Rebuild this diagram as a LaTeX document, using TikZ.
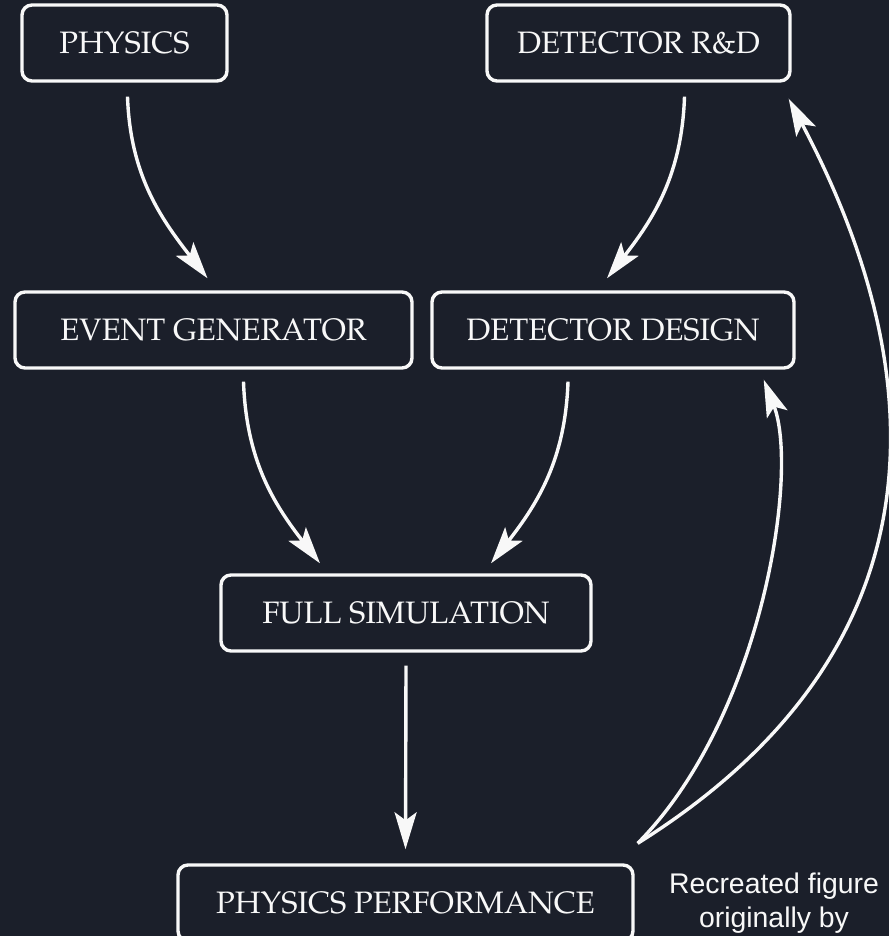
\documentclass[tikz,border=0pt]{standalone}
\usepackage[T1]{fontenc}
\usepackage{fontspec}
\usetikzlibrary{arrows.meta}
\newfontfamily\notefont{Liberation Sans}
\newcommand\boxfont{\fontencoding{T1}\fontfamily{ppl}\selectfont}
\definecolor{bgdark}{HTML}{1B1F2A}
\definecolor{linewhite}{HTML}{F8F8F8}

\begin{document}
\begin{tikzpicture}[x=0.5pt, y=0.5pt,
    stage/.style={draw=linewhite, line width=1.7pt, rounded corners=5pt,
      minimum height=38pt, inner sep=0pt, text=linewhite,
      font=\boxfont\fontsize{15.5}{18}\selectfont},
    flow/.style={draw=linewhite, line width=1.7pt,
      -{Stealth[length=18.5pt, width=11pt, inset=4pt]}}]
    \fill [bgdark] (0,0) rectangle (889,936);
    \useasboundingbox (0,0) rectangle (889,936);
    % boxes
    \node [stage, minimum width=102.5pt] (phys) at (124.5,893) {PHYSICS};
    \node [stage, minimum width=151.5pt] (rnd) at (638.5,893) {DETECTOR R\&D};
    \node [stage, minimum width=198.5pt] (evgen) at (213.5,606) {EVENT GENERATOR};
    \node [stage, minimum width=181pt] (design) at (613,606) {DETECTOR DESIGN};
    \node [stage, minimum width=185pt] (fullsim) at (406,323) {FULL SIMULATION};
    \node [stage, minimum width=227.5pt] (perf) at (405.5,33) {PHYSICS PERFORMANCE};
    \node [anchor=north, inner sep=0pt, align=center, text=linewhite,
      font=\notefont\fontsize{14.2}{17}\selectfont] (note) at (774,63)
      {Recreated figure\\originally by};
    % arrows
    \draw [flow] ([shift={(1.5pt,-7pt)}]phys.south) to[out=-88, in=128] ([shift={(-3pt,6pt)}]evgen.north);
    \draw [flow] ([shift={(23pt,-7pt)}]rnd.south) to[out=-92, in=52] ([shift={(-3pt,6pt)}]design.north);
    \draw [flow] ([shift={(15pt,-6pt)}]evgen.south) to[out=-88, in=128] ([shift={(-43pt,5pt)}]fullsim.north);
    \draw [flow] ([shift={(-22.5pt,-6pt)}]design.south) to[out=-92, in=52] ([shift={(42.5pt,5pt)}]fullsim.north);
    \draw [flow] ([yshift=-6.5pt]fullsim.south) -- ([yshift=7pt]perf.north);
    % feedback
    \coordinate (back) at ([shift={(1.5pt,10pt)}]perf.north east);
    \draw [flow] (back) .. controls +(62pt,62.5pt) and +(18pt,-46pt) .. ([shift={(-16pt,-5pt)}]design.south east);
    \draw [flow] (back) .. controls +(187pt,117pt) and +(47pt,-89pt) .. ([shift={(-1.5pt,-8pt)}]rnd.south east);
\end{tikzpicture}
\end{document}
